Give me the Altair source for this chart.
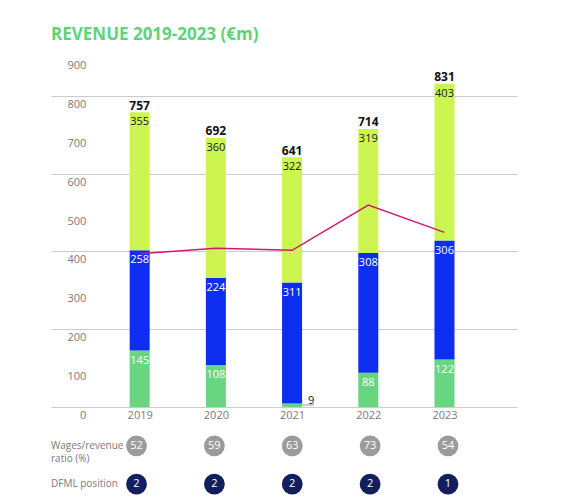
import altair as alt
import pandas as pd

# values (EUR m)
years = [2019, 2020, 2021, 2022, 2023]
matchday = [145, 108, 9, 88, 122]
broadcasting = [258, 224, 311, 308, 306]
commercial = [355, 360, 322, 319, 403]
totals = [757, 692, 641, 714, 831]
wages = [394, 408, 403, 519, 449]
wage_ratio = [52, 59, 63, 73, 54]
dfml_position = [2, 2, 2, 2, 1]
y_ticks = [0, 100, 200, 300, 400, 500, 600, 700, 800, 900]
segments = ["Matchday", "Broadcasting", "Commercial"]
seg_colors = ["#68d580", "#0d2df0", "#ccf552"]
row_names = ["ratio", "dfml"]
row_labels = ["Wages/revenue\nratio (%)", "DFML position"]

FONT = "Open Sans"
GREY = "#7a7a7a"
X_DOMAIN = [2017.902, 2023.886]
W = 466

rows = []
for i, y in enumerate(years):
    for k, (seg, vals) in enumerate(zip(segments, [matchday, broadcasting, commercial])):
        rows.append({"year": y, "segment": seg, "value": vals[i], "ord": k})
stack_df = pd.DataFrame(rows)
tot_df = pd.DataFrame({"year": years, "total": totals, "wages": wages})
tick_df = pd.DataFrame({"tick": y_ticks})

x = alt.X("year:Q", scale=alt.Scale(domain=X_DOMAIN, nice=False, zero=False),
          axis=alt.Axis(values=years, format="d", grid=False, ticks=False, domain=False,
                        labelFontSize=11, labelColor=GREY, labelFont=FONT,
                        labelPadding=2, title=None))
yscale = alt.Scale(domain=[0, 900], nice=False)

base = alt.Chart(stack_df).transform_stack(
    stack="value", groupby=["year"], as_=["v0", "v1"], sort=[alt.SortField("ord")]
)

bars = base.mark_bar(size=20).encode(
    x=x,
    y=alt.Y("v0:Q", scale=yscale,
            axis=alt.Axis(values=y_ticks, labels=False, ticks=False, domain=False,
                          gridColor="#cccccc", gridWidth=1, title=None)),
    y2="v1:Q",
    color=alt.Color("segment:N", scale=alt.Scale(domain=segments, range=seg_colors), legend=None),
)

seg_text = base.transform_filter("datum.value >= 30").mark_text(
    baseline="top", dy=4, fontSize=11, font=FONT
).encode(
    x="year:Q",
    y="v1:Q",
    text="value:Q",
    color=alt.condition("datum.segment == 'Commercial'", alt.value("#1a1a1a"), alt.value("white")),
)

small = base.transform_filter("datum.value < 30")
small_text = small.mark_text(dx=19, dy=-3, fontSize=11, font=FONT, color="#222222").encode(
    x="year:Q", y="v1:Q", text="value:Q"
)
leader_h = small.mark_rule(color="#999999", strokeWidth=1, xOffset=10, x2Offset=21,
                           yOffset=1.5).encode(
    x="year:Q", x2="year:Q", y="v1:Q"
)
leader_v = small.mark_rule(color="#999999", strokeWidth=1, xOffset=21, yOffset=1.5,
                           y2Offset=-2).encode(
    x="year:Q", y="v1:Q", y2="v1:Q"
)

total_text = alt.Chart(tot_df).mark_text(
    baseline="alphabetic", dy=-3, fontSize=12, fontWeight="bold", font=FONT, color="#111111"
).encode(x="year:Q", y="total:Q", text="total:Q")

wage_line = alt.Chart(tot_df).mark_line(color="#cc1a6e", strokeWidth=1.5).encode(
    x="year:Q", y="wages:Q"
)

ylabels = alt.Chart(tick_df).mark_text(
    align="right", baseline="top", dy=3, fontSize=11, font=FONT, color=GREY
).encode(x=alt.datum(2018.30), y="tick:Q", text="tick:Q")

top = alt.layer(bars, wage_line, seg_text, small_text, leader_h, leader_v, total_text, ylabels
                ).properties(width=W, height=350)

# rows of circles under the chart
circ_rows = []
for i, y in enumerate(years):
    circ_rows.append({"year": y, "row": "ratio", "val": wage_ratio[i]})
    circ_rows.append({"year": y, "row": "dfml", "val": dfml_position[i]})
circ_df = pd.DataFrame(circ_rows)
lab_df = pd.DataFrame({"row": row_names, "label": row_labels})

bx = alt.X("year:Q", scale=alt.Scale(domain=X_DOMAIN, nice=False, zero=False), axis=None)
by = alt.Y("row:N", scale=alt.Scale(type="point", domain=row_names, padding=0.283), axis=None)

circles = alt.Chart(circ_df).mark_circle(size=430, opacity=1).encode(
    x=bx, y=by,
    color=alt.condition("datum.row == 'ratio'", alt.value("#9b9b9b"), alt.value("#121e5e")),
)
circ_text = alt.Chart(circ_df).mark_text(fontSize=11, font=FONT, color="white").encode(
    x="year:Q", y="row:N", text="val:Q"
)
row_text = alt.Chart(lab_df).mark_text(
    align="left", baseline="middle", fontSize=10, lineHeight=13, font=FONT,
    color=GREY, lineBreak="\n"
).encode(x=alt.datum(X_DOMAIN[0]), y="row:N", text="label:N")

bottom = alt.layer(circles, circ_text, row_text).properties(width=W, height=60)

chart = alt.vconcat(top, bottom, spacing=14).properties(
    title=alt.TitleParams("REVENUE 2019-2023 (€m)", anchor="start", fontSize=17, font=FONT,
                          fontWeight="bold", color="#5dd37a", offset=13),
    padding={"left": 43, "top": 18, "right": 10, "bottom": 0},
).configure_view(stroke=None)

chart.save("out.html", embed_options={"renderer": "svg", "actions": False})
